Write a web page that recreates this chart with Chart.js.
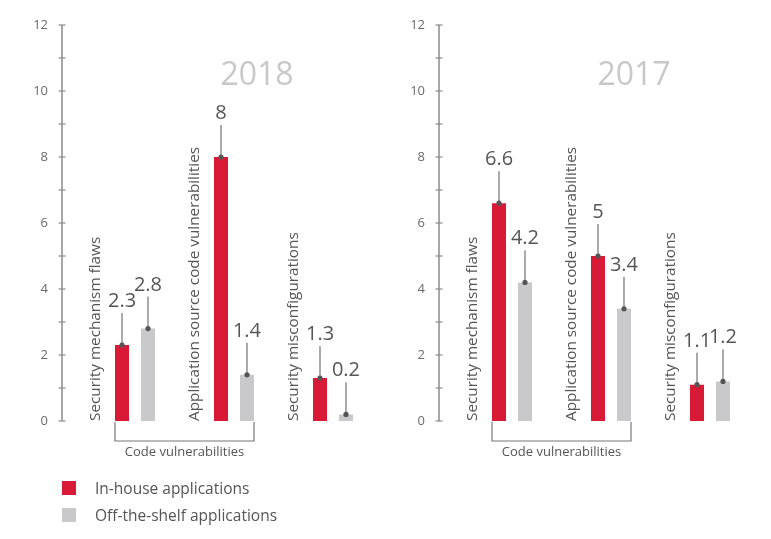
<!DOCTYPE html>
<html>
<head>
<meta charset="utf-8">
<script src="https://cdn.jsdelivr.net/npm/chart.js@4.4.1/dist/chart.umd.min.js"></script>
<style>
  html, body { margin: 0; padding: 0; background: #fff; }
  body { width: 771px; height: 539px; position: relative; overflow: hidden; font-family: "Open Sans", sans-serif; }
  .box { position: absolute; top: 0; width: 390px; height: 539px; }
  #legend { position: absolute; left: 62px; top: 480px; color: #555; font-size: 15.5px; }
  #legend div { height: 27px; line-height: 16px; position: relative; padding-left: 33px; }
  #legend span { position: absolute; left: 0; top: 1px; width: 14px; height: 14px; }
</style>
</head>
<body>
<div class="box" style="left:0"><canvas id="chart2018"></canvas></div>
<div class="box" style="left:377px"><canvas id="chart2017"></canvas></div>
<div id="legend"></div>

<script>
// chart values
const categories = ['Security mechanism flaws', 'Application source code vulnerabilities', 'Security misconfigurations'];
const seriesNames = ['In-house applications', 'Off-the-shelf applications'];
const inHouse2018 = [2.3, 8, 1.3];
const offShelf2018 = [2.8, 1.4, 0.2];
const inHouse2017 = [6.6, 5, 1.1];
const offShelf2017 = [4.2, 3.4, 1.2];
const yTicks = [0, 2, 4, 6, 8, 10, 12];
const groupLabel = 'Code vulnerabilities';

const RED = '#d81a37';
const GREY = '#c9c8ca';
const TEXT = '#555555';
const FONT = '"Open Sans", sans-serif';

// draws the axis, the rotated category names, the callouts, the bracket and the year
const decorations = {
  id: 'decorations',
  afterDatasetsDraw(chart, args, opts) {
    const ctx = chart.ctx;
    const area = chart.chartArea;
    const y = chart.scales.y;
    const red = chart.getDatasetMeta(0).data;
    const grey = chart.getDatasetMeta(1).data;

    ctx.save();

    // y axis line with a tick on every unit
    const ax = area.left - 23.5;
    ctx.strokeStyle = '#8a8a8a';
    ctx.lineWidth = 1.5;
    ctx.beginPath();
    ctx.moveTo(ax, y.getPixelForValue(y.max));
    ctx.lineTo(ax, y.getPixelForValue(y.min));
    ctx.stroke();
    ctx.lineWidth = 1.2;
    for (let v = y.min; v <= y.max; v++) {
      const py = y.getPixelForValue(v);
      ctx.beginPath();
      ctx.moveTo(ax - 3.5, py);
      ctx.lineTo(ax + 3.5, py);
      ctx.stroke();
    }

    // category names, written upwards next to each pair
    ctx.fillStyle = TEXT;
    ctx.font = '15.3px ' + FONT;
    ctx.textAlign = 'left';
    ctx.textBaseline = 'middle';
    red.forEach((bar, i) => {
      const lx = bar.x - (grey[i].x - bar.x);
      ctx.save();
      ctx.translate(lx, area.bottom);
      ctx.rotate(-Math.PI / 2);
      ctx.fillText(categories[i], 0, 0);
      ctx.restore();
    });

    // value callouts
    ctx.font = '20px ' + FONT;
    ctx.textAlign = 'center';
    ctx.textBaseline = 'alphabetic';
    [0, 1].forEach(d => {
      const ds = chart.data.datasets[d];
      chart.getDatasetMeta(d).data.forEach((bar, i) => {
        const top = bar.y - 32;
        ctx.strokeStyle = '#555';
        ctx.lineWidth = 1;
        ctx.beginPath();
        ctx.moveTo(bar.x, bar.y);
        ctx.lineTo(bar.x, top);
        ctx.stroke();
        ctx.fillStyle = '#555';
        ctx.beginPath();
        ctx.arc(bar.x, bar.y, 2.6, 0, Math.PI * 2);
        ctx.fill();
        ctx.fillStyle = TEXT;
        ctx.fillText(String(ds.data[i]), bar.x, top - 6);
      });
    });

    // bracket under the two code vulnerability groups
    const bx1 = red[0].x - red[0].width / 2;
    const bx2 = grey[1].x + grey[1].width / 2;
    const b0 = area.bottom + 1;
    const b1 = area.bottom + 20;
    ctx.strokeStyle = '#777';
    ctx.lineWidth = 1.2;
    ctx.beginPath();
    ctx.moveTo(bx1, b0);
    ctx.lineTo(bx1, b1);
    ctx.lineTo(bx2, b1);
    ctx.lineTo(bx2, b0);
    ctx.stroke();
    ctx.fillStyle = TEXT;
    ctx.font = '13px ' + FONT;
    ctx.textBaseline = 'middle';
    ctx.fillText(groupLabel, (bx1 + bx2) / 2, b1 + 11);

    // year
    ctx.fillStyle = '#c8c8c8';
    ctx.font = '32px ' + FONT;
    ctx.textBaseline = 'alphabetic';
    ctx.fillText(opts.year, area.left + 171.5, area.top + 60);

    ctx.restore();
  }
};

function makeChart(id, year, inHouse, offShelf) {
  return new Chart(document.getElementById(id), {
    type: 'bar',
    data: {
      labels: categories,
      datasets: [
        { label: seriesNames[0], data: inHouse, backgroundColor: RED },
        { label: seriesNames[1], data: offShelf, backgroundColor: GREY }
      ]
    },
    options: {
      responsive: true,
      maintainAspectRatio: false,
      animation: false,
      datasets: { bar: { categoryPercentage: 0.525, barPercentage: 0.54 } },
      layout: { padding: { top: 25, bottom: 118, left: 0, right: 7.5 } },
      scales: {
        x: { display: false },
        y: {
          min: 0,
          max: 12,
          afterFit: s => { s.width = 85.5; s.paddingTop = 8; s.paddingBottom = 8; },
          afterBuildTicks: s => { s.ticks = yTicks.map(v => ({ value: v })); },
          grid: { display: false, drawTicks: false },
          border: { display: false },
          ticks: { padding: 37.5, color: '#6a6a6a', font: { family: FONT, size: 13 } }
        }
      },
      plugins: {
        legend: { display: false },
        tooltip: { enabled: false },
        decorations: { year: year }
      }
    },
    plugins: [decorations]
  });
}

const c1 = makeChart('chart2018', '2018', inHouse2018, offShelf2018);
makeChart('chart2017', '2017', inHouse2017, offShelf2017);

// legend built from the datasets
const legend = document.getElementById('legend');
c1.data.datasets.forEach(ds => {
  const row = document.createElement('div');
  const sw = document.createElement('span');
  sw.style.background = ds.backgroundColor;
  row.appendChild(sw);
  row.appendChild(document.createTextNode(ds.label));
  legend.appendChild(row);
});
</script>
</body>
</html>
